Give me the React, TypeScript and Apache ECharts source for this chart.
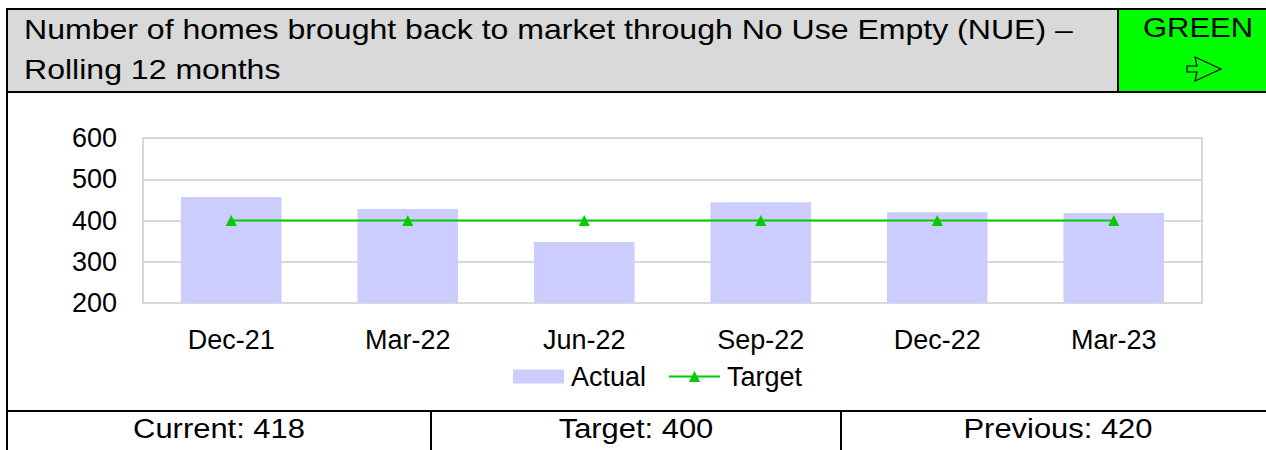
import React, { useEffect, useRef } from "react";
import * as echarts from "echarts";

const categories = ["Dec-21", "Mar-22", "Jun-22", "Sep-22", "Dec-22", "Mar-23"];
const actualValues = [457, 428, 348, 444, 420, 418];
const targetValues = [400, 400, 400, 400, 400, 400];
const titleLines = ["Number of homes brought back to market through No Use Empty (NUE) –", "Rolling 12 months"];
const statusText = "GREEN";
const footerTexts = ["Current: 418", "Target: 400", "Previous: 420"];

const FONT = "Arial, 'Liberation Sans', sans-serif";
const SX = 1.145;

export default function App() {
  const ref = useRef<HTMLDivElement>(null);
  useEffect(() => {
    if (!ref.current) return;
    const chart = echarts.init(ref.current, null, { renderer: "svg" });
    const black = "#000";
    const bar = (x: number, y: number, w: number, h: number) => ({
      type: "rect", shape: { x, y, width: w, height: h }, style: { fill: black }, silent: true, z: 10,
    });
    const txt = (x: number, y: number, text: string, align: string, size: number) => ({
      type: "text", x, y, scaleX: SX, z: 11,
      style: { text, x: 0, y: 0, fill: black, font: `${size}px ${FONT}`, align, verticalAlign: "middle" },
    });
    const footerCenters = [219, 636, 1058];
    chart.setOption({
      animation: false,
      backgroundColor: "#fff",
      graphic: [
        { type: "rect", shape: { x: 6, y: 8, width: 1112, height: 84 }, style: { fill: "#d9d9d9" }, z: 1 },
        { type: "rect", shape: { x: 1118, y: 8, width: 160, height: 84 }, style: { fill: "#00ff00" }, z: 1 },
        bar(6, 8, 1270, 2),
        bar(6, 8, 2, 450),
        bar(6, 91, 1270, 2),
        bar(1117, 8, 2, 85),
        bar(6, 410, 1270, 2),
        bar(430, 410, 2, 45),
        bar(840, 410, 2, 45),
        txt(24, 29, titleLines[0], "left", 28),
        txt(24, 69, titleLines[1], "left", 28),
        txt(1198, 28, statusText, "center", 27),
        {
          type: "polygon", z: 11,
          shape: { points: [[1187, 66], [1197, 66], [1195, 57], [1221, 69], [1195, 81], [1197, 72], [1187, 72]] },
          style: { fill: "none", stroke: black, lineWidth: 1.2 },
        },
        ...footerTexts.map((t, i) => txt(footerCenters[i], 429, t, "center", 27)),
      ],
      grid: {
        left: 143, top: 138, width: 1059, height: 165,
        show: true, borderColor: "#d9d9d9", borderWidth: 2, containLabel: false,
      },
      legend: {
        left: 508, top: 358,
        itemWidth: 51, itemHeight: 14, itemGap: 22,
        textStyle: { fontFamily: FONT, fontSize: 27, color: black, padding: [0, 0, 0, 2] },
        data: [
          { name: "Actual", icon: "rect" },
          { name: "Target" },
        ],
      },
      xAxis: {
        type: "category",
        data: categories,
        axisTick: { show: false },
        axisLine: { show: true, lineStyle: { color: "#d9d9d9", width: 2 } },
        axisLabel: { fontFamily: FONT, fontSize: 27, color: black, margin: 23 },
      },
      yAxis: {
        type: "value",
        min: 200, max: 600, interval: 100,
        axisLine: { show: false },
        axisTick: { show: false },
        splitLine: { lineStyle: { color: "#d9d9d9", width: 2 } },
        axisLabel: { fontFamily: FONT, fontSize: 27, color: black, margin: 26 },
      },
      series: [
        {
          name: "Actual", type: "bar", data: actualValues,
          barCategoryGap: "43%", itemStyle: { color: "#ccccff" },
        },
        {
          name: "Target", type: "line", data: targetValues,
          symbol: "triangle", symbolSize: 11,
          lineStyle: { color: "#00cc00", width: 2 },
          itemStyle: { color: "#00cc00" },
        },
      ],
    });
    return () => chart.dispose();
  }, []);
  return (
    <div
      ref={ref}
      style={{ position: "fixed", left: 0, top: 0, width: 1266, height: 450, background: "#fff" }}
    />
  );
}
